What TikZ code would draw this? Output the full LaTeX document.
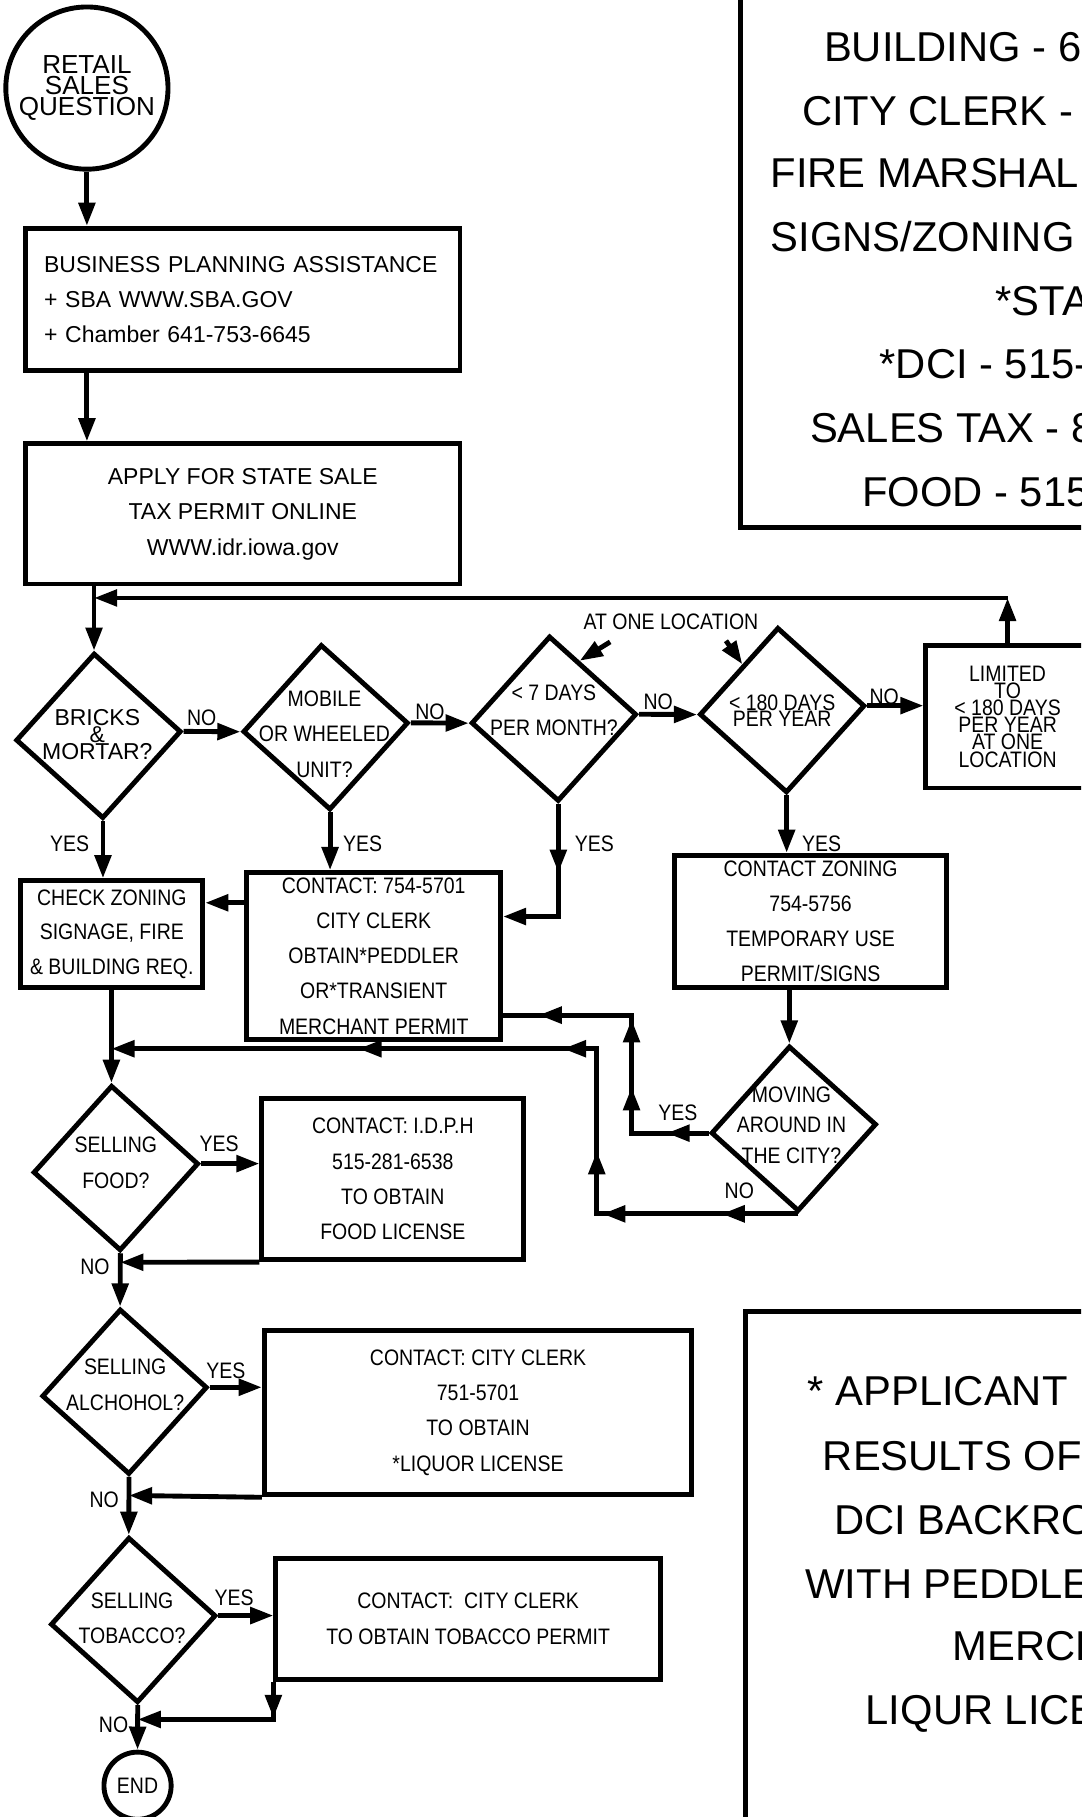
\documentclass[tikz,border=0pt]{standalone}
\usepackage{fontspec}
\setmainfont{Liberation Sans}
\newfontfamily\narrowfont[FakeStretch=0.87]{Liberation Sans}
\usetikzlibrary{positioning,calc,shapes.geometric,arrows.meta,decorations.markings}
\setlength{\lineskiplimit}{-20pt}
\newcommand\boxfont{\fontsize{11.3}{17.4}\selectfont}
\newcommand\flowfont{\narrowfont\fontsize{11}{17.3}\selectfont}
\newcommand\tightfont{\narrowfont\fontsize{11}{8.4}\selectfont}
\newcommand\sidefont{\fontsize{20.5}{24}\selectfont}

\begin{document}
\begin{tikzpicture}[x=0.02cm,y=-0.02cm,line width=2.4pt,
  box/.style={draw,rectangle,inner sep=0pt,align=center,font=\flowfont},
  decision/.style={draw,diamond,rotate=3,inner sep=0pt,minimum width=2.86cm,minimum height=2.86cm},
  dtext/.style={font=\flowfont,align=center,inner sep=0pt},
  lbl/.style={font=\flowfont,inner sep=0pt},
  side/.style={font=\sidefont,anchor=base west,inner sep=0pt},
  flow/.style={-{Triangle[length=0.4cm,width=0.28cm]}},
  headat/.style={postaction={decorate,decoration={markings,
      mark=at position #1 with {\arrow{Triangle[length=0.4cm,width=0.28cm]}}}}}]
 \useasboundingbox (0,0) rectangle (933,1568);
 \clip (0,0) rectangle (933,1568);
 % start and the two top boxes
 \node[draw,circle,minimum size=2.8cm,inner sep=0pt,align=center,
   font=\fontsize{12.8}{10.2}\selectfont] (start) at (75,76) {RETAIL\\SALES\\QUESTION};
 \node[box,font=\boxfont,align=left,minimum width=7.5cm,minimum height=2.46cm,
   text width=6.86cm,inner xsep=0.32cm] (plan) at (209.5,258.5)
   {BUSINESS PLANNING ASSISTANCE\\+ SBA WWW.SBA.GOV\\+ Chamber 641-753-6645};
 \node[box,font=\boxfont,minimum width=7.5cm,minimum height=2.42cm] (permit) at (209.5,443.5)
   {APPLY FOR STATE SALE\\TAX PERMIT ONLINE\\WWW.idr.iowa.gov};
 %
 \node[decision] (brick) at (85,635) {};
 \node[dtext,font=\fontsize{11.3}{8.2}\selectfont] (brick-t) at (84,634) {BRICKS\\\&\\MORTAR?};
 \node[decision] (mobile) at (281,627.6) {};
 \node[dtext] (mobile-t) at (280,633.5) {MOBILE\\OR WHEELED\\UNIT?};
 \node[decision] (week) at (478,620.2) {};
 \node[dtext] (week-t) at (478,613) {< 7 DAYS\\PER MONTH?};
 \node[decision] (year) at (675,612.8) {};
 \node[dtext,font=\narrowfont\fontsize{11}{7.9}\selectfont] (year-t) at (675,613) {< 180 DAYS\\PER YEAR};
 \node[box,font=\tightfont,minimum width=2.82cm,minimum height=2.46cm] (limit) at (869.5,618.5)
   {LIMITED\\TO\\< 180 DAYS\\PER YEAR\\AT ONE\\LOCATION};
 \node[lbl] (atone) at (579,537) {AT ONE LOCATION};
 %
 \node[box,font=\narrowfont\fontsize{11}{17}\selectfont,minimum width=3.14cm,minimum height=1.84cm] (check) at (96.5,806)
   {CHECK ZONING\\SIGNAGE, FIRE\\\& BUILDING REQ.};
 \node[box,minimum width=4.38cm,minimum height=2.88cm] (clerk) at (322.5,825)
   {CONTACT: 754-5701\\CITY CLERK\\OBTAIN*PEDDLER\\OR*TRANSIENT\\MERCHANT PERMIT};
 \node[box,minimum width=4.7cm,minimum height=2.28cm] (zoning) at (699.5,795)
   {CONTACT ZONING\\754-5756\\TEMPORARY USE\\PERMIT/SIGNS};
 \node[decision] (moving) at (685,974) {};
 \node[dtext,font=\narrowfont\fontsize{11}{15}\selectfont] (moving-t) at (683,971) {MOVING\\AROUND IN\\THE CITY?};
 %
 \node[decision] (foodq) at (100,1008) {};
 \node[dtext] (foodq-t) at (100,1003.5) {SELLING\\FOOD?};
 \node[box,minimum width=4.52cm,minimum height=2.78cm] (foodbox) at (339,1017.5)
   {CONTACT: I.D.P.H\\515-281-6538\\TO OBTAIN\\FOOD LICENSE};
 \node[decision] (drinkq) at (107.5,1201) {};
 \node[dtext] (drinkq-t) at (108,1195) {SELLING\\ALCHOHOL?};
 \node[box,minimum width=7.38cm,minimum height=2.84cm] (drinkbox) at (412.5,1219)
   {CONTACT: CITY CLERK\\751-5701\\TO OBTAIN\\*LIQUOR LICENSE};
 \node[decision] (smokeq) at (115,1398) {};
 \node[dtext] (smokeq-t) at (114,1396.5) {SELLING\\TOBACCO?};
 \node[box,minimum width=6.64cm,minimum height=2.08cm] (smokebox) at (404,1397)
   {CONTACT:\ \ CITY CLERK\\TO OBTAIN TOBACCO PERMIT};
 \node[draw,circle,minimum size=1.16cm,inner sep=0pt,font=\flowfont] (finish) at (118.7,1541) {END};
 %
 \node[draw,minimum width=10cm,minimum height=10cm,anchor=south west] (phones) at (637,457) {};
 \foreach \tx/\ty/\txt [count=\k] in {709/40/{BUILDING - 6}, 690/95/{CITY CLERK -},
     663/149/{FIRE MARSHAL}, 663/204/{SIGNS/ZONING}, 857/259/{*STA},
     757/314/{*DCI - 515-}, 697/369/{SALES TAX - 8}, 742/424/{FOOD - 515}}
   \node[side] (ph\k) at (\tx,\ty+13) {\txt};
 \node[draw,minimum width=10cm,minimum height=10cm,anchor=north west] (note) at (641,1130) {};
 \foreach \tx/\ty/\txt [count=\k] in {695/1200/{* APPLICANT}, 708/1256/{RESULTS OF},
     718/1311/{DCI BACKRO}, 693/1366/{WITH PEDDLE}, 820/1420/{MERCH}, 745/1475/{LIQUR LICE}}
   \node[side] (nt\k) at (\tx,\ty+13) {\txt};
 %
 \draw[flow] (start.south) -- (start.south |- plan.north);
 \draw[flow] (start.south |- plan.south) -- (start.south |- permit.north);
 \draw[flow] (brick.north |- permit.south) -- (brick.north);
 \coordinate (turn) at (limit.north |- 0,516);
 \draw[flow] (limit.north) -- (turn);
 \draw[flow] (turn) -- (turn -| brick.north);
 \draw[flow] (brick.east) -- (mobile.west);
 \draw[flow] (mobile.east) -- (week.west);
 \draw[flow] (week.east) -- (year.west);
 \draw[flow] (year.east) -- (year.east -| limit.west);
 \draw[flow] ($(atone.south west)+(25,8)$) -- (week.63);
 \draw[flow] ($(atone.south east)+(-30,7)$) -- (year.128);
 \draw[flow] (brick.south) -- (brick.south |- check.north);
 \draw[flow] (mobile.south) -- (mobile.south |- clerk.north);
 \draw[flow,headat=0.41] (week.south) |- ($(clerk.north east)!0.27!(clerk.south east)$);
 \draw[flow] (year.south) -- (year.south |- zoning.north);
 \draw[flow] ($(clerk.north west)!0.19!(clerk.south west)$) coordinate (c1) -- (c1 -| check.east);
 \draw[flow] (moving.north |- zoning.south) -- (moving.north);
 \coordinate (upx) at (545,876);
 \draw[headat=0.13,headat=0.38,headat=0.59,headat=0.89] (moving.west) -| (upx) -- (upx -| clerk.east);
 \coordinate (nox) at (515,905);
 \draw[flow,headat=0.09,headat=0.23,headat=0.31,headat=0.47,headat=0.71]
   (moving.south) -| (nox) -- (nox -| foodq.north);
 \draw[flow] (foodq.north |- check.south) -- (foodq.north);
 \draw[flow] (foodq.east) -- (foodq.east -| foodbox.west);
 \draw[flow] (foodbox.south west) -- ($(foodq.south)!0.17!(drinkq.north)$);
 \draw[flow] (foodq.south) -- (drinkq.north);
 \draw[flow] (drinkq.east) -- (drinkq.east -| drinkbox.west);
 \draw[flow] (drinkbox.south west) -- ($(drinkq.south)!0.32!(smokeq.north)$);
 \draw[flow] (drinkq.south) -- (smokeq.north);
 \draw[flow] (smokeq.east) -- (smokeq.east -| smokebox.west);
 \draw[flow,headat=0.21] (smokebox.south west) |- ($(smokeq.south)!0.32!(finish.north)$);
 \draw[flow] (smokeq.south) -- (finish.north);
 % branch labels
 \node[lbl] (no1) at (174,619) {NO};
 \node[lbl] (no2) at (371,614) {NO};
 \node[lbl] (no3) at (568,606) {NO};
 \node[lbl] (no4) at (763,601) {NO};
 \node[lbl] (yes1) at (60,728) {YES};
 \node[lbl] (yes2) at (313,728) {YES};
 \node[lbl] (yes3) at (513,728) {YES};
 \node[lbl] (yes4) at (709,728) {YES};
 \node[lbl] (yes5) at (585,960) {YES};
 \node[lbl] (no5) at (638,1028) {NO};
 \node[lbl] (yes6) at (189,987) {YES};
 \node[lbl] (no6) at (82,1093) {NO};
 \node[lbl] (yes7) at (195,1183) {YES};
 \node[lbl] (no7) at (90,1294) {NO};
 \node[lbl] (yes8) at (202,1379) {YES};
 \node[lbl] (no8) at (98,1488) {NO};
\end{tikzpicture}
\end{document}
